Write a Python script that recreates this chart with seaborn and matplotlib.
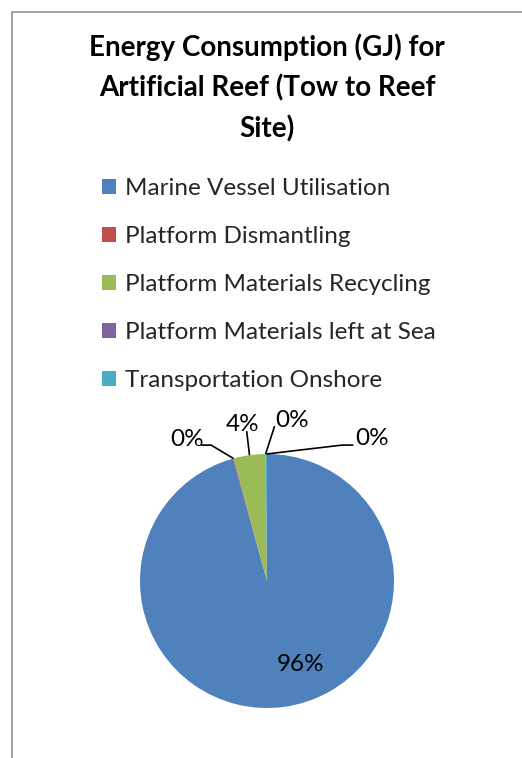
import matplotlib
matplotlib.use("Agg")
import matplotlib.pyplot as plt
import seaborn as sns
import numpy as np
from matplotlib.lines import Line2D

categories = ["Marine Vessel Utilisation", "Platform Dismantling",
              "Platform Materials Recycling", "Platform Materials left at Sea",
              "Transportation Onshore"]
values = [95.7, 0.1, 4.0, 0.05, 0.15]
pct_labels = ["96%", "0%", "4%", "0%", "0%"]
colors = ["#4F81BD", "#C0504D", "#9BBB59", "#8064A2", "#4BACC6"]
title = "Energy Consumption (GJ) for\nArtificial Reef (Tow to Reef\nSite)"

sns.set_style("white")
plt.rcParams["font.family"] = ["Lato", "DejaVu Sans"]

W, H = 522, 758
fig = plt.figure(figsize=(W / 100, H / 100), dpi=100)

# outer border (chart area frame)
fig.add_artist(Line2D([12 / W, 12 / W], [0, 1 - 12 / H], color="#a6a6a6", lw=1.5,
                      transform=fig.transFigure))
fig.add_artist(Line2D([12 / W, 1], [1 - 12 / H, 1 - 12 / H], color="#a6a6a6", lw=1.5,
                      transform=fig.transFigure))

# title
fig.text(267 / W, 1 - 33.5 / H, title, ha="center", va="top", fontsize=20,
         fontweight="bold", linespacing=1.61, color="black")

# pie axes
cx, cy, r = 267, 581, 127
ax = fig.add_axes([(cx - r) / W, (H - cy - r) / H, 2 * r / W, 2 * r / H])
wedges, _ = ax.pie(values, colors=colors, startangle=90, counterclock=False,
                   radius=1.0, wedgeprops=dict(linewidth=0))
ax.set_xlim(-1, 1)
ax.set_ylim(-1, 1)
ax.set_axis_off()

# label placement (data units relative to pie centre, radius 1)
label_pos = [(0.26, -0.66), (-0.63, 1.115), (-0.19, 1.235), (0.20, 1.26), (0.83, 1.125)]
elbows = [None, (-0.44, 1.07), None, None, (0.59, 1.07)]
line_start = [None, (-0.52, 1.07), (-0.16, 1.18), (0.06, 1.22), (0.68, 1.07)]

for i, w in enumerate(wedges):
    mid = np.deg2rad((w.theta1 + w.theta2) / 2)
    ex, ey = np.cos(mid), np.sin(mid)
    lx, ly = label_pos[i]
    ax.text(lx, ly, pct_labels[i], ha="center", va="center", fontsize=17.5,
            color="black", clip_on=False)
    if line_start[i] is not None:
        pts = [line_start[i]]
        if elbows[i] is not None:
            pts.append(elbows[i])
        pts.append((ex, ey))
        xs, ys = zip(*pts)
        ax.plot(xs, ys, color="black", lw=1.2, clip_on=False, solid_capstyle="butt")

# legend
fig.legend(wedges, categories, loc="upper left",
           bbox_to_anchor=(102 / W, 1 - 178 / H), frameon=False, fontsize=17.5,
           handlelength=0.58, handleheight=0.58, handletextpad=0.35,
           labelspacing=1.11, borderpad=0, borderaxespad=0)

fig.savefig("out.png", dpi=100)
